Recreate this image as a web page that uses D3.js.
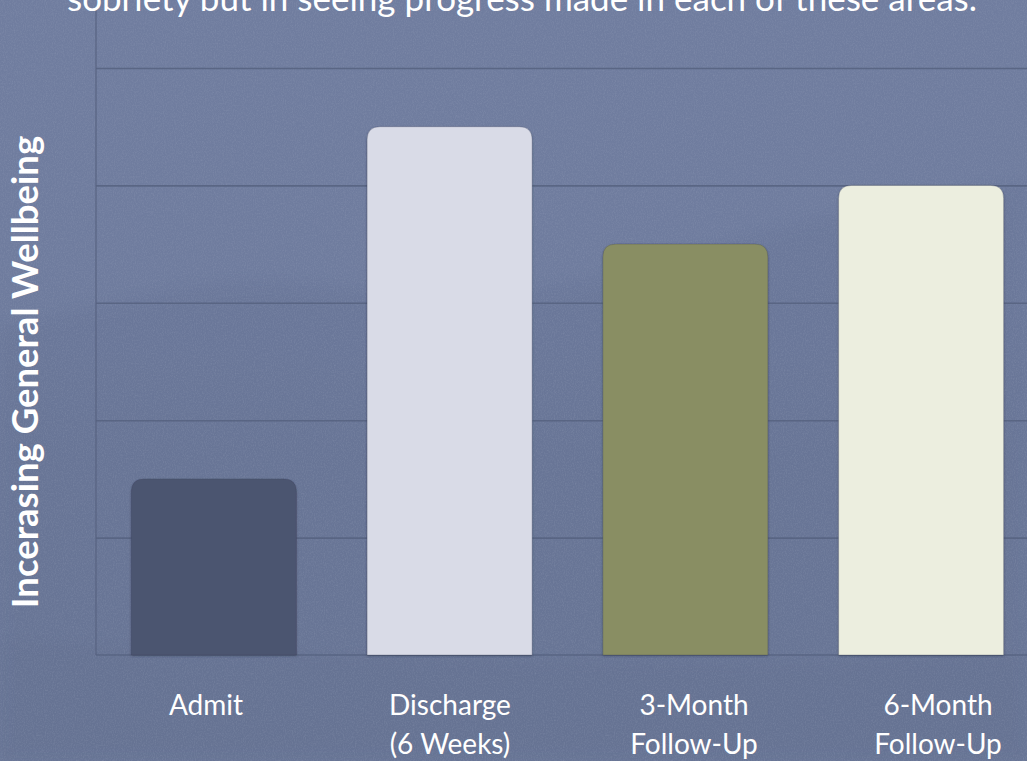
<!DOCTYPE html>
<html>
<head>
<meta charset="utf-8">
<script src="https://cdn.jsdelivr.net/npm/d3@7"></script>
<style>
  html, body { margin: 0; padding: 0; background: #6e7b9c; overflow: hidden; }
  svg { display: block; }
  text { font-family: Lato, "Open Sans", sans-serif; fill: #ffffff; }
</style>
</head>
<body>
<svg id="chart" width="1027" height="761"></svg>
<script>
// Wellbeing score at each measurement point
const categories = ["Admit", "Discharge (6 Weeks)", "3-Month Follow-Up", "6-Month Follow-Up"];
const labelLines = [["Admit"], ["Discharge", "(6 Weeks)"], ["3-Month", "Follow-Up"], ["6-Month", "Follow-Up"]];
const values = [1.5, 4.5, 3.5, 4.0];
const barColors = ["#4c5470", "#d9dbe7", "#898e63", "#eceedf"];
const gridTicks = [1, 2, 3, 4, 5];
const titleText = "sobriety but in seeing progress made in each of these areas.";
const yTitle = "Incerasing General Wellbeing";

const W = 1027, H = 761;
const svg = d3.select("#chart");
const defs = svg.append("defs");

// soft backdrop: light sky fading to a darker valley
const bg = defs.append("linearGradient").attr("id", "bgGrad").attr("x1", 0).attr("y1", 0).attr("x2", 0).attr("y2", 1);
bg.append("stop").attr("offset", 0).attr("stop-color", "#707d9f");
bg.append("stop").attr("offset", 0.35).attr("stop-color", "#6f7c9e");
bg.append("stop").attr("offset", 0.6).attr("stop-color", "#6b7899");
bg.append("stop").attr("offset", 1).attr("stop-color", "#6b7898");

const grain = defs.append("filter").attr("id", "grain").attr("x", 0).attr("y", 0).attr("width", "100%").attr("height", "100%");
grain.append("feTurbulence").attr("type", "fractalNoise").attr("baseFrequency", "0.9 0.6").attr("numOctaves", 3).attr("seed", 4).attr("result", "n");
grain.append("feColorMatrix").attr("type", "matrix")
  .attr("values", "0 0 0 0 0.45  0 0 0 0 0.5  0 0 0 0 0.62  0 0 0 0.9 -0.35");

const haze = defs.append("filter").attr("id", "haze").attr("x", "-5%").attr("y", "-20%").attr("width", "110%").attr("height", "140%");
haze.append("feGaussianBlur").attr("stdDeviation", 6);

const shadow = defs.append("filter").attr("id", "barShadow").attr("x", "-10%").attr("y", "-10%").attr("width", "120%").attr("height", "120%");
shadow.append("feDropShadow").attr("dx", 0).attr("dy", 1).attr("stdDeviation", 1.2)
  .attr("flood-color", "#2a3045").attr("flood-opacity", 0.45);

svg.append("rect").attr("width", W).attr("height", H).attr("fill", "url(#bgGrad)");

// faint mountain ridge and valley town in the backdrop
const ridge = d3.area().curve(d3.curveBasis).x(d => d[0]).y0(H).y1(d => d[1]);
const ridgePts = [[0, 330], [120, 300], [260, 272], [400, 300], [560, 290], [700, 250], [820, 215], [930, 195], [1027, 180]];
svg.append("path").attr("d", ridge(ridgePts)).attr("fill", "#5f6c8e").attr("opacity", 0.2).attr("filter", "url(#haze)");
const valleyPts = [[0, 640], [200, 650], [350, 655], [500, 660], [700, 665], [900, 660], [1027, 655]];
svg.append("path").attr("d", ridge(valleyPts)).attr("fill", "#64708f").attr("opacity", 0.3).attr("filter", "url(#haze)");
svg.append("rect").attr("width", W).attr("height", H).attr("filter", "url(#grain)").attr("opacity", 0.35);

// scales: band range runs past the right edge of the page
const x = d3.scaleBand().domain(categories).range([96, 1039]).paddingInner(0.3).paddingOuter(0.15);
const y = d3.scaleLinear().domain([0, 5.5]).range([655, 9.3]);

// horizontal gridlines
svg.append("g")
  .attr("transform", "translate(96,0)")
  .call(d3.axisLeft(y).tickValues(gridTicks).tickSize(-(1039 - 96)).tickFormat(""))
  .call(g => g.select(".domain").remove())
  .call(g => g.selectAll(".tick line").attr("stroke", "#56627f").attr("stroke-width", 1.6).attr("stroke-opacity", 0.85));

// axis lines
svg.append("line").attr("x1", 96).attr("x2", 96).attr("y1", y.range()[1]).attr("y2", y(0))
  .attr("stroke", "#56627f").attr("stroke-width", 1.4).attr("stroke-opacity", 0.8);
svg.append("line").attr("x1", 96).attr("x2", 1039).attr("y1", y(0)).attr("y2", y(0))
  .attr("stroke", "#56627f").attr("stroke-width", 1.6).attr("stroke-opacity", 0.85);

// bars with rounded top corners
const r = 13;
function topRounded(x0, y0, w, h) {
  const rr = Math.min(r, w / 2, h);
  return `M${x0},${y0 + h}V${y0 + rr}Q${x0},${y0} ${x0 + rr},${y0}H${x0 + w - rr}Q${x0 + w},${y0} ${x0 + w},${y0 + rr}V${y0 + h}Z`;
}
svg.append("g").selectAll("path")
  .data(categories)
  .join("path")
  .attr("d", (c, i) => topRounded(x(c), y(values[i]), x.bandwidth(), y(0) - y(values[i])))
  .attr("fill", (c, i) => barColors[i])
  .attr("stroke", "rgba(60,66,90,0.35)")
  .attr("stroke-width", 0.8)
  .attr("filter", "url(#barShadow)");

// category labels
const labelX = d3.scalePoint().domain(categories).range([206, 938]);
const lbl = svg.append("g").selectAll("text")
  .data(categories)
  .join("text")
  .attr("x", c => labelX(c))
  .attr("y", 715)
  .attr("text-anchor", "middle")
  .attr("font-size", 28)
  .attr("fill", "#f4f5fa");
lbl.selectAll("tspan")
  .data((c, i) => labelLines[i])
  .join("tspan")
  .attr("x", function () { return this.parentNode.getAttribute("x"); })
  .attr("dy", (d, j) => j === 0 ? 0 : 39)
  .text(d => d);

// y-axis title
svg.append("text")
  .attr("transform", "translate(38,372) rotate(-90)")
  .attr("text-anchor", "middle")
  .attr("font-size", 36.5)
  .attr("font-weight", 700)
  .text(yTitle);

// heading text running off the top edge
svg.append("text")
  .attr("x", 522)
  .attr("y", 10.5)
  .attr("text-anchor", "middle")
  .attr("font-size", 35)
  .attr("fill", "#f6f7fb")
  .text(titleText);
</script>
</body>
</html>
